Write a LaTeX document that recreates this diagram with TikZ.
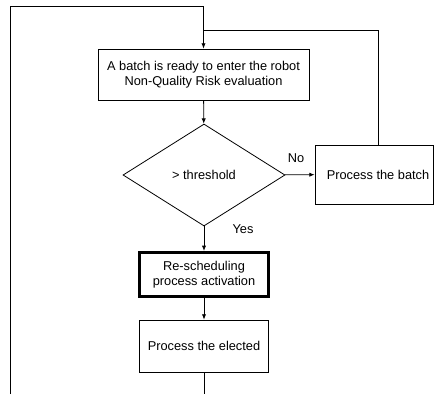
\documentclass[tikz,border=0pt]{standalone}
\usepackage{fontspec}
\setmainfont{Liberation Sans}
\usetikzlibrary{arrows.meta,positioning,shapes.geometric}

\tikzset{
  box/.style={draw,inner sep=0pt,align=center},
  tip/.style={-{Latex[length=4pt,width=3.2pt]}},
  lbl/.style={inner sep=0pt}
}

\begin{document}
\begin{tikzpicture}[x=0.75pt,y=-0.75pt,line width=0.6pt,font=\fontsize{9.6}{11.25}\selectfont]
\useasboundingbox (0,0) rectangle (434,394);
\node[box,minimum width=158.25pt,minimum height=38.25pt] (ready) at (203.5,74.5) {A batch is ready to enter the robot\\Non-Quality Risk evaluation};
\node[box,diamond,minimum width=121.5pt,minimum height=76.5pt] (test) at (204,175) {> threshold};
\node[box,minimum width=88.5pt,minimum height=44.25pt] (batch) at (374,174.5) {\hspace*{6pt}Process the batch};
\node[box,line width=1.6pt,minimum width=97.5pt,minimum height=33.75pt] (resched) at (204,274.5) {Re-scheduling\\process activation};
\draw ([shift={(2.2pt,-2.2pt)}]resched.north west) rectangle ([shift={(-2.2pt,2.2pt)}]resched.south east);
\node[box,minimum width=96.75pt,minimum height=39pt] (elected) at (204,346) {Process the elected};
\node[lbl] (no) at (296,158) {No};
\node[lbl] (yes) at (243,229) {Yes};
\coordinate (bottomleft) at (10,394);
\coordinate (bottomout) at (204,394);
% connectors
\draw[tip] (ready) -- (test);
\draw[tip] (test) -- (batch);
\draw[tip] (test) -- (resched);
\draw[tip] (resched) -- (elected);
\draw (elected) -- (bottomout);
\draw[tip] (bottomleft) |- (ready.north |- 0,6) -- (ready.north);
\draw ([xshift=3pt]batch.north) |- (ready.north |- 0,30);
\end{tikzpicture}
\end{document}
